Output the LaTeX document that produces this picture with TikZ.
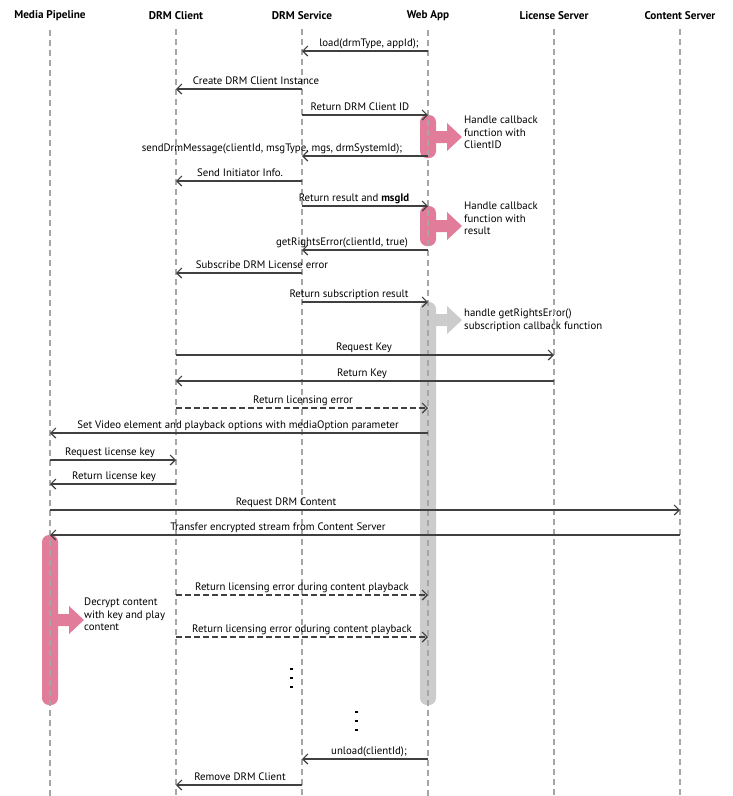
\documentclass[tikz,border=0pt]{standalone}
\usepackage{fontspec}
\setmainfont{PT Sans}
\usetikzlibrary{arrows.meta}
\begin{document}
\begin{tikzpicture}[x=1pt,y=-1pt,
  life/.style={gray!70,line width=1.2pt,dash pattern=on 6pt off 4pt},
  msg/.style={draw=black!75,line width=1.2pt,-{Straight Barb[length=5pt,width=10pt,line width=1.2pt]}},
  dmsg/.style={msg,dash pattern=on 6pt off 3pt},
  lbl/.style={font=\fontsize{10.8}{11}\selectfont,inner sep=0pt,anchor=base},
  title/.style={font=\bfseries\fontsize{11.2}{12}\selectfont,inner sep=0pt},
  note/.style={font=\fontsize{10.8}{12.5}\selectfont,align=left,anchor=north west,inner sep=0pt}]
\definecolor{pk}{RGB}{225,125,155}
\useasboundingbox (0,0) rectangle (733,796);
% lifelines
\foreach \n/\x/\t in {mp/50/Media Pipeline,dc/176/DRM Client,ds/302/DRM Service,wa/428/Web App,ls/554/License Server,cs/680/Content Server}{
  \node[title] (\n) at (\x,16) {\t};
  \coordinate (\n b) at (\x,796);
}
% activation bars
\fill[gray!40,rounded corners=7pt] (420,302) rectangle (436,705);
\fill[pk,rounded corners=7pt] (420,115) rectangle (436,158);
\fill[pk,rounded corners=7pt] (420,206) rectangle (436,246);
\fill[pk,rounded corners=7pt] (42,535) rectangle (58,705);
% block arrows
\newcommand\blockarr[3]{%
  \fill[#3] (#1,#2-6) -- (#1+13,#2-6) -- (#1+13,#2-14) -- (#1+28,#2) -- (#1+13,#2+14) -- (#1+13,#2+6) -- (#1,#2+6) -- cycle;}
\blockarr{434}{137}{pk}
\blockarr{434}{226}{pk}
\blockarr{434}{320}{gray!40}
\blockarr{56}{620}{pk}
\node[note] (n1) at (464,116) {Handle callback\\function with\\ClientID};
\node[note] (n2) at (464,202) {Handle callback\\function with\\result};
\node[note] (n3) at (464,309) {handle getRightsError()\\subscription callback function};
\node[note] (n4) at (84,598) {Decrypt content\\with key and play\\content};
\foreach \n in {mp,dc,ds,wa,ls,cs}{\draw[life] ([yshift=-9pt]\n.south) -- (\n b);}
% messages
\newcommand\m[6]{\draw[#6] (#2 |- 0,#1) -- (#3 |- 0,#1); \node[lbl] at (#4,#1-5) {#5};}
\m{51}{wa}{ds}{369}{load(drmType, appId);}{msg}
\m{89}{ds}{dc}{256}{Create DRM Client Instance}{msg}
\m{115}{ds}{wa}{360}{Return DRM Client ID}{msg}
\m{156}{wa}{ds}{272}{sendDrmMessage(clientId, msgType, mgs, drmSystemId);}{msg}
\m{181}{ds}{dc}{240}{Send Initiator Info.}{msg}
\m{206}{ds}{wa}{354}{Return result and \textbf{msgId}}{msg}
\m{250}{wa}{ds}{342}{getRightsError(clientId, true)}{msg}
\m{273}{ds}{dc}{262}{Subscribe DRM License error}{msg}
\m{302}{ds}{wa}{349}{Return subscription result}{msg}
\m{355}{dc}{ls}{364}{Request Key}{msg}
\m{381}{ls}{dc}{362}{Return Key}{msg}
\m{408}{dc}{wa}{303}{Return licensing error}{dmsg}
\m{433}{wa}{mp}{238}{Set Video element and playback options with mediaOption parameter}{msg}
\m{460}{mp}{dc}{110}{Request license key}{msg}
\m{484}{dc}{mp}{114}{Return license key}{msg}
\m{510}{mp}{cs}{286}{Request DRM Content}{msg}
\m{535}{cs}{mp}{278}{Transfer encrypted stream from Content Server}{msg}
\m{595}{dc}{wa}{302}{Return licensing error during content playback}{dmsg}
\m{637}{dc}{wa}{302}{Return licensing error oduring content playback}{dmsg}
\m{759}{wa}{ds}{369}{unload(clientId);}{msg}
\m{785}{ds}{dc}{240}{Remove DRM Client}{msg}
% ellipses
\foreach \y in {668,677,686}{\fill (290,\y) rectangle (293,\y+2);}
\foreach \y in {711,720,729}{\fill (355,\y) rectangle (358,\y+2);}
\end{tikzpicture}
\end{document}
